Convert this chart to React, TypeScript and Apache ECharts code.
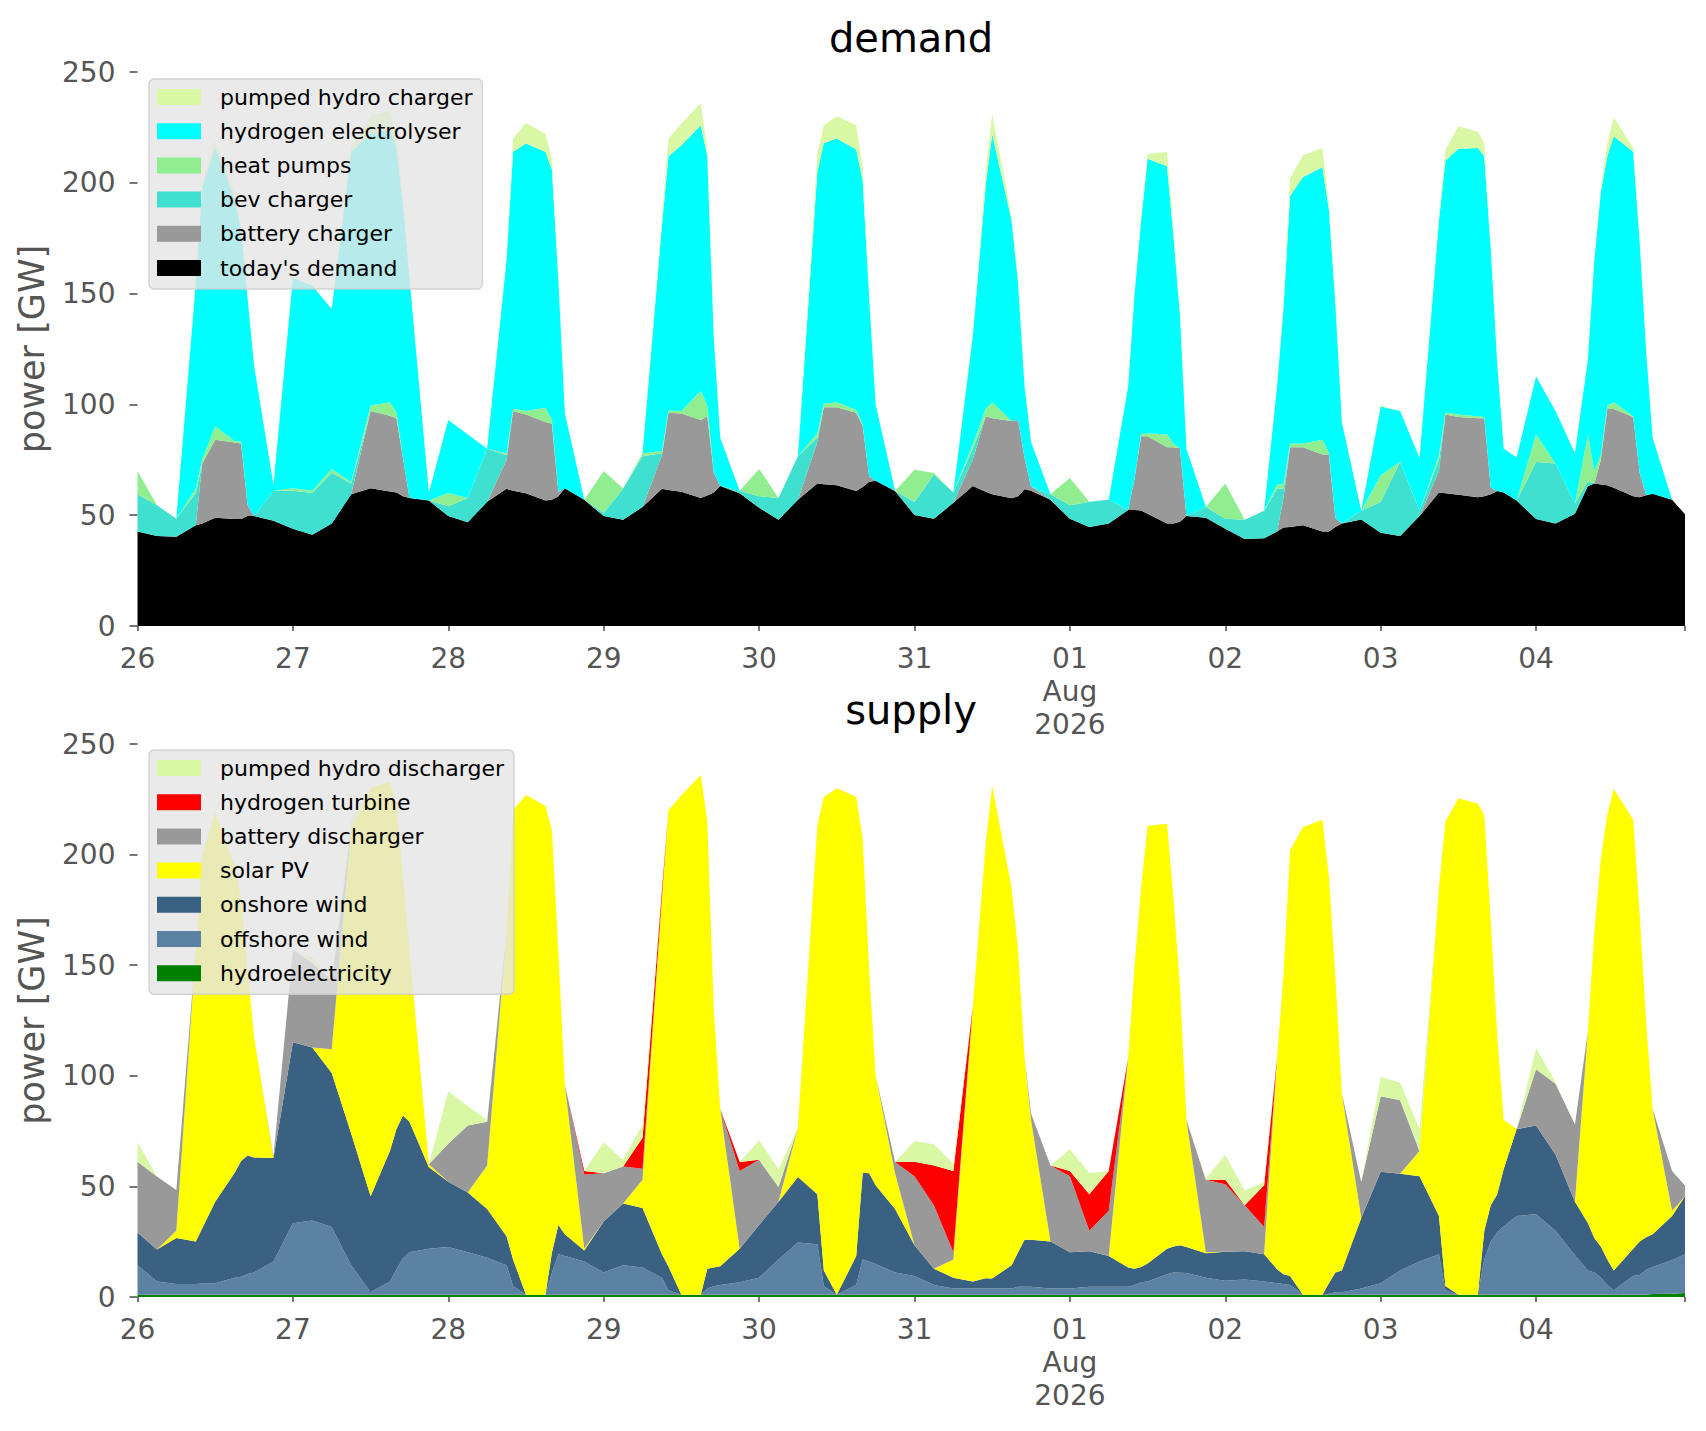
import React, { useEffect, useRef } from 'react';
import * as echarts from 'echarts';

// hours since 26 Jul 2026 00:00 (one row per day)
const HOURS = [
  0, 3, 6, 9, 10, 12, 15, 16, 17, 18, 21,
  24, 27, 30, 33, 36, 39, 40, 41, 42, 45,
  48, 51, 54, 57, 58, 60, 63, 64, 65, 66, 69,
  72, 75, 78, 81, 82, 84, 87, 88, 89, 90, 93,
  96, 99, 102, 105, 106, 108, 111, 112, 113, 114, 117,
  120, 123, 126, 129, 131, 132, 135, 136, 137, 138, 141,
  144, 147, 150, 153, 154, 155, 156, 159, 160, 161, 162, 165,
  168, 171, 174, 176, 177, 178, 180, 183, 184, 185, 186, 189,
  192, 195, 198, 201, 202, 204, 207, 208, 209, 210, 211, 213,
  216, 219, 222, 224, 225, 226, 227, 228, 231, 232, 233, 234, 237,
  239,
];

// ---- demand (GW) ----
const TODAYS_DEMAND = [
  42.6, 40.6, 40.3, 45.5, 46.3, 48.8, 48.3, 48.3, 49.6, 49.6, 47.5,
  43.9, 41.2, 46.3, 59.4, 62.2, 60.7, 60.2, 58.6, 57.8, 56.6,
  49.6, 46.8, 56.1, 61.9, 61, 59.9, 56.6, 57, 58.6, 62.2, 57,
  49.6, 48, 53.7, 61.9, 61.4, 60.6, 57.8, 58.9, 60.2, 63.2, 59.9,
  53.4, 48, 57, 64.3, 64, 63.5, 60.9, 62.7, 65.1, 65.5, 60.9,
  50.1, 48.4, 55.6, 63.2, 60.6, 59.4, 57.6, 58.6, 61.7, 61, 57,
  48.4, 44.7, 46.3, 52.4, 52.4, 52.1, 50.7, 46.3, 46.3, 47.1, 49.6, 48.8,
  43.9, 39.3, 39.6, 42.6, 44.4, 44.7, 45.5, 42.7, 42.6, 44.7, 46.2, 48.1,
  42.1, 40.6, 49.6, 60.2, 59.9, 59.2, 58.1, 58.6, 59.4, 60.9, 60.2, 56.6,
  48.3, 46.3, 50.7, 63.2, 64.3, 63.8, 63.5, 62.4, 58.6, 58.1, 59, 59.7, 57,
  50.4,
];
const BATTERY_CHARGER = [
  0, 0, 0, 0, 27, 35.2, 34.5, 34, 5, 0, 0,
  0, 0, 0, 0, 34.8, 34.2, 33.6, 17.2, 0, 0,
  0, 0, 0, 13.1, 36, 35.5, 35.5, 34.3, 2, 0, 0,
  0, 0, 0, 15.1, 34.8, 35.3, 35.2, 35.7, 9.1, 0, 0,
  0, 0, 0, 18.7, 34.7, 35.2, 35.3, 27.6, 2.5, 0, 0,
  0, 0, 0, 11.8, 34, 34.4, 34.9, 34.4, 14.1, 2, 0,
  0, 0, 0, 0, 14.4, 33.5, 34.9, 34.4, 34.4, 33.1, 0, 0,
  0, 0, 0, 0, 13.6, 36, 35.2, 34.7, 34.8, 4, 0, 0,
  0, 0, 0, 9.8, 35.5, 35.1, 35.7, 35.2, 3.1, 0, 0, 0,
  0, 0, 0, 0, 0, 11.2, 34.4, 35.5, 35.7, 11.1, 0, 0, 0,
  0,
];
const BEV_CHARGER = [
  16.8, 13.9, 8.1, 14.5, 0, 0, 0, 0, 0, 0, 13.5,
  17.1, 18.8, 22.9, 4.9, 0, 0, 0, 0, 0, 0,
  4.4, 11, 23.9, 2, 0, 0, 0, 0, 0, 0, 0,
  1.4, 14, 22.9, 1, 0, 0, 0, 0, 0, 0, 1.1,
  5.2, 9.8, 19.6, 2, 0, 0, 0, 0, 0, 0, 0,
  5.9, 20, 4.6, 5, 0, 0, 0, 0, 0, 0, 2.4,
  6.1, 11.4, 10.7, 0, 0, 0, 0, 0, 0, 0, 0, 4.9,
  4.5, 8.7, 12.4, 19.3, 4, 0, 0, 0, 0, 0, 0, 3.9,
  13.9, 33.5, 2.4, 5, 0, 0, 0, 0, 0, 0, 0, 0,
  25.7, 27, 4.6, 2, 0, 0, 0, 0, 0, 0, 0, 0, 0,
  0,
];
const HEAT_PUMPS = [
  10.6, 0, 0, 2, 2, 6, 0.7, 1, 0, 0, 0,
  1.2, 1, 1.7, 0.7, 2.5, 6.1, 2.4, 0, 0, 0,
  6, 0, 0, 1, 1, 1.6, 6.4, 1.7, 0, 0, 0,
  19, 0, 1.4, 1, 1, 1.1, 13, 4.9, 0, 0, 0,
  12.3, 0, 0, 2, 1.6, 2.3, 1.3, 0.5, 0, 0, 0,
  14.5, 0.6, 0, 2, 3.3, 7.2, 0, 0, 0, 0, 0,
  12.3, 0, 0, 0, 0, 1, 1.4, 5.7, 1.6, 0, 0, 0,
  15.9, 0, 0, 2, 2, 1.6, 1.6, 6.6, 0.8, 0, 0, 0,
  12, 0, 0, 2, 1, 1.1, 0.8, 0.5, 0, 0, 0, 0,
  12.4, 0, 0, 21.2, 5.7, 2, 1.6, 3.1, 0.3, 0, 0, 0, 0,
  0,
];
const H2_ELECTROLYSER = [
  0, 0, 0, 93, 122.7, 126, 109.5, 95.7, 93.4, 67.9, 2.5,
  94.8, 92.5, 72.1, 149, 122.5, 123, 119.8, 114.2, 99.2, 3.4,
  33, 28.6, 0, 87, 116, 120.7, 115.5, 113, 95.4, 33.8, 0,
  0, 0, 0, 102, 114.8, 120, 120, 112.5, 60.7, 21.8, 0,
  0, 0, 0, 118, 117.7, 119, 117.5, 110.2, 80.4, 34.5, 0,
  0, 0, 0, 48.6, 101.1, 121, 90.5, 62, 32.2, 20, 0,
  0, 0, 0, 55.6, 83.2, 96.4, 123.8, 121.1, 93.7, 59.8, 30.4, 0,
  0, 0, 0, 44.1, 80, 111.7, 120.3, 123, 109.8, 96.3, 45.8, 0,
  31, 22.9, 23.8, 106, 113.6, 120, 121.1, 117.7, 107.5, 57.1, 19.8, 19.4,
  26.2, 23.7, 22.7, 33.6, 95, 119, 112.5, 120, 119.4, 103.8, 65, 25.3, 0,
  0,
];
const PHS_CHARGER = [
  0, 0, 0, 2, 2, 3, 2, 1, 0, 0, 0,
  0, 0, 0, 2, 8, 9, 6, 0, 0, 0,
  0, 0, 0, 0, 6, 9.3, 8, 5, 0, 0, 0,
  0, 0, 0, 3, 8, 9.8, 10, 3, 0, 0, 0,
  0, 0, 0, 8, 8, 10, 11, 6, 0, 0, 0,
  0, 0, 0, 0.4, 6, 9, 2, 2, 0, 0, 0,
  0, 0, 0, 0, 0, 2, 2.2, 6.5, 4, 0, 0, 0,
  0, 0, 0, 0, 2, 8, 9.8, 8.7, 2, 0, 0, 0,
  0.5, 0, 0.2, 2, 5, 10.1, 7.3, 6, 0, 0, 0, 0,
  0, 0, 0, 0, 0, 2, 6, 8.6, 1.7, 0, 0, 0, 0,
  0,
];

// ---- supply (GW) ----
const HYDRO = [
  1, 1, 1, 1, 1, 1, 1, 1, 1, 1, 1,
  1, 1, 1, 1, 1, 1, 1, 1, 1, 1,
  1, 1, 1, 1, 1, 1, 1, 1, 1, 1, 1,
  1, 1, 1, 1, 1, 1, 1, 1, 1, 1, 1,
  1, 1, 1, 1, 1, 1, 1, 1, 1, 1, 1,
  1, 1, 1, 1, 1, 1, 1, 1, 1, 1, 1,
  1, 1, 1, 1, 1, 1, 1, 1, 1, 1, 1, 1,
  1, 1, 1, 1, 1, 1, 1, 1, 1, 1, 1, 1,
  1, 1, 1, 1, 1, 1, 1, 1, 1, 1, 1, 1,
  1, 1, 1, 1, 1, 1, 1, 1, 1, 1, 1, 1.3, 1.5,
  1.8,
];
const OFFSHORE = [
  13.4, 6, 4.9, 4.9, 5.1, 5.2, 7.7, 8.2, 9.4, 10.1, 15.1,
  32.3, 33.6, 30.6, 13.4, 1.1, 6, 11.5, 16.5, 19.2, 20.8,
  21.6, 19.2, 16.7, 13.4, 4, 0, 0, 10, 18.3, 17.5, 15.1,
  10.1, 13.4, 12.3, 7.7, 2, 0, 0, 2.8, 3.9, 4.4, 5.7,
  7.7, 15.9, 23.6, 22.8, 4, 0, 4.4, 15.9, 15, 13.9, 10.1,
  8.5, 4.4, 2.8, 2.8, 2.8, 2.8, 2.8, 3.6, 3.6, 3.6, 2.8,
  2.8, 3.6, 3.6, 3.6, 4.4, 5.7, 6, 9.3, 10.1, 10, 9.8, 7.7,
  6.4, 6.9, 6, 5.2, 4.9, 4.4, 0, 0, 0.5, 1.1, 1.1, 2.8,
  5.2, 11, 15.1, 18.3, 2, 0, 0, 16, 24, 28.2, 31, 35.6,
  36.4, 29, 17.9, 11, 10.1, 7.7, 4.4, 2, 8.5, 9, 11.3, 12.3, 15.1,
  17.5,
];
const ONSHORE = [
  14.8, 14.5, 20.8, 19.2, 25, 36.9, 47.5, 52.3, 53.6, 52, 46.7,
  81.9, 78.2, 69.7, 59.5, 43.5, 59.1, 63.5, 64.5, 59, 36.9,
  29.5, 27, 22.1, 13.1, 12, 0, 0, 9, 13.2, 9.9, 4.9,
  23, 27.9, 26.9, 10.6, 10.8, 0, 0, 9, 8.4, 8.5, 15.1,
  23.8, 26.2, 29.7, 22.6, 7, 0, 13.1, 39.3, 39.9, 35.6, 28.7,
  13.9, 7.4, 4.9, 3.2, 4.7, 4.6, 10.6, 15.6, 21.3, 21.3, 21.3,
  16.4, 16.1, 13.9, 8.7, 7.4, 6.9, 8.2, 11.5, 11.7, 12.4, 11.8, 11.1,
  13.1, 12.8, 12.3, 6.3, 4.4, 4.1, 0, 0, 4.7, 9, 9.9, 31.9,
  50.4, 43.7, 38.5, 17.3, 2, 0, 0, 13, 16.5, 17.2, 25.9, 39.3,
  40.1, 34.4, 24.2, 21.5, 15.6, 14.1, 11.5, 9, 12.3, 15.1, 14.7, 14.8, 20,
  26.3,
];
const SOLAR = [
  0, 0, 3.3, 131.9, 169, 175.9, 138.8, 118.5, 84, 54.4, 0,
  0, 0, 10.7, 138.1, 184.4, 166.9, 146, 108, 77.8, 1.3,
  0, 0, 19.7, 137.5, 203, 226, 221, 191, 123.5, 67.6, 0.8,
  0, 0, 12.8, 161.7, 206.2, 225.8, 235, 202.2, 116.7, 71.1, 0,
  0, 0, 22.3, 166.6, 214, 229, 207.5, 150.8, 92.1, 49.5, 16.2,
  0, 0, 8.2, 124, 196.5, 222.6, 170.6, 136.8, 82.1, 54.1, 0,
  0, 0, 0, 94.7, 137.2, 171.4, 197.8, 192.2, 157.2, 116.6, 57.4, 0.4,
  0, 0, 0, 95.5, 135.7, 192.5, 211.4, 214.7, 183.8, 133.9, 80, 0,
  0, 0, 11.4, 148.4, 210, 224.5, 222, 188, 128.5, 71.6, 22.1, 0.1,
  0, 0, 0, 86.5, 138.3, 175.2, 201.1, 217.6, 193.9, 147.9, 97, 56.6, 2.4,
  0,
];
const BATTERY_DISCHARGER = [
  31.9, 33, 18.4, 0, 0, 0, 0, 0, 0, 0, 0.7,
  41.8, 38.2, 31, 0, 0, 0, 0, 0, 0, 0,
  17.2, 30.3, 19.7, 0, 0, 0, 0, 0, 0, 0, 33.6,
  21.9, 16.7, 5, 0, 0, 0, 0, 0, 0, 0, 35.2,
  29.5, 6.6, 0, 0, 0, 0, 0, 0, 0, 0, 5,
  31.2, 28.7, 3.3, 0, 0, 0, 0, 0, 0, 3, 34.3,
  34.4, 9.3, 20.5, 0, 0, 0, 0, 0, 0, 0, 0, 32.8,
  30.5, 20.8, 12.3, 0, 0, 0, 0, 0, 0, 0, 0, 16.3,
  34.1, 33.3, 0, 0, 0, 0, 0, 0, 0, 0, 0, 0,
  25.5, 32, 34.9, 0, 0, 0, 0, 0, 0, 0, 0, 0, 18,
  4.8,
];
const H2_TURBINE = [
  0, 0, 0, 0, 0, 0, 0, 0, 0, 0, 0,
  0, 0, 0, 0, 0, 0, 0, 0, 0, 0,
  0, 0, 0, 0, 0, 0, 0, 0, 0, 0, 1.6,
  0, 0, 14, 3, 0, 0, 0, 0, 0, 0, 4,
  0, 0, 0, 0, 0, 0, 0, 0, 0, 0, 0,
  6.5, 18, 36.8, 0, 0, 0, 0, 0, 0, 0, 0,
  2.4, 16.4, 18, 0, 0, 0, 0, 0, 0, 0, 0, 0,
  2, 0, 18.9, 0, 0, 0, 0, 0, 0, 0, 0, 0,
  0, 0, 0, 0, 0, 0, 0, 0, 0, 0, 0, 0,
  0, 0, 0, 0, 0, 0, 0, 0, 0, 0, 0, 0, 0,
  0,
];
const PHS_DISCHARGER = [
  8.9, 0, 0, 0, 0, 0, 0, 0, 0, 0, 0,
  0, 2.5, 0, 4, 0, 0, 0, 0, 0, 0,
  23.7, 8.9, 0.8, 0, 0, 0, 0, 0, 0, 0, 0,
  14, 3, 6, 0, 0, 0, 0, 0, 0, 0, 0,
  8.9, 8.1, 0, 0, 0, 0, 0, 0, 0, 0, 0,
  9.4, 9.5, 3.2, 0, 0, 0, 0, 0, 0, 0, 0,
  9.8, 9.7, 0, 0, 0, 0, 0, 0, 0, 0, 0, 0.7,
  11.3, 6.5, 1.5, 0, 0, 0, 0, 0, 0, 0, 0, 0,
  8.8, 8, 10, 0, 0, 0, 0, 0, 0, 0, 0, 0,
  9.6, 0.6, 0, 0, 0, 0, 0, 0, 0, 0, 0, 0, 0,
  0,
];

const Y_TICKS = [0, 50, 100, 150, 200, 250];
const DEMAND_LEGEND = ['pumped hydro charger', 'hydrogen electrolyser', 'heat pumps', 'bev charger', 'battery charger', "today's demand"];
const SUPPLY_LEGEND = ['pumped hydro discharger', 'hydrogen turbine', 'battery discharger', 'solar PV', 'onshore wind', 'offshore wind', 'hydroelectricity'];

const FONT = 'DejaVu Sans';
const TICK_COLOR = '#555555';
const START = new Date(2026, 6, 26, 0, 0, 0).getTime();
const HOUR_MS = 3600000;
const LAST_HOUR = HOURS[HOURS.length - 1];

const PLOT_LEFT = 137.5;
const PLOT_WIDTH = 1547.5;

function dayLabel(v: number): string {
  if (Math.abs(v % 24) > 1e-6) return '';
  const d = new Date(2026, 6, 26 + v / 24);
  const s = String(d.getDate()).padStart(2, '0');
  if (d.getDate() === 1) return s + '\nAug\n2026';
  return s;
}

function makeSeries(name: string, values: number[], color: string, stack: string, axisIdx: number) {
  return {
    type: 'line',
    name,
    stack,
    xAxisIndex: axisIdx * 2,
    yAxisIndex: axisIdx,
    data: HOURS.map((h, i) => [START + h * HOUR_MS, values[i] ?? 0]),
    showSymbol: false,
    symbol: 'none',
    color,
    itemStyle: { color },
    lineStyle: { width: 0, color },
    areaStyle: { color, opacity: 1 },
    silent: true,
    emphasis: { disabled: true },
  };
}

function App() {
  const ref = useRef<HTMLDivElement | null>(null);

  useEffect(() => {
    document.body.style.margin = '0';
    if (!ref.current) return;
    const chart = echarts.init(ref.current, null, { renderer: 'svg' });

    const grids = [
      { left: PLOT_LEFT, top: 72, width: PLOT_WIDTH, height: 554 },
      { left: PLOT_LEFT, top: 744, width: PLOT_WIDTH, height: 553 },
    ];

    const xAxes: any[] = [];
    const yAxes: any[] = [];
    [0, 1].forEach((g) => {
      xAxes.push({
        type: 'time',
        gridIndex: g,
        min: START,
        max: START + LAST_HOUR * HOUR_MS,
        show: false,
      });
      xAxes.push({
        type: 'value',
        gridIndex: g,
        position: 'bottom',
        min: 0,
        max: LAST_HOUR,
        interval: 24,
        axisLine: { show: false },
        splitLine: { show: false },
        axisTick: { show: true, length: 5, lineStyle: { color: TICK_COLOR, width: 1.6 } },
        axisLabel: {
          show: true,
          formatter: dayLabel,
          color: TICK_COLOR,
          fontSize: 28,
          lineHeight: 33,
          margin: 16,
          fontFamily: FONT,
          showMinLabel: true,
          showMaxLabel: true,
        },
      });
      yAxes.push({
        type: 'value',
        gridIndex: g,
        min: Y_TICKS[0],
        max: Y_TICKS[Y_TICKS.length - 1],
        interval: 50,
        name: 'power [GW]',
        nameLocation: 'middle',
        nameGap: 88,
        nameRotate: 90,
        nameTextStyle: { fontSize: 35, color: TICK_COLOR, fontFamily: FONT },
        axisLine: { show: false },
        splitLine: { show: false },
        axisTick: { show: true, length: 8, lineStyle: { color: TICK_COLOR, width: 1.6 } },
        axisLabel: { color: TICK_COLOR, fontSize: 28, margin: 22, fontFamily: FONT },
      });
    });

    const PHS_COLOR = '#daf7a6';
    const series = [
      makeSeries("today's demand", TODAYS_DEMAND, '#000000', 'demand', 0),
      makeSeries('battery charger', BATTERY_CHARGER, '#999999', 'demand', 0),
      makeSeries('bev charger', BEV_CHARGER, '#40e0d0', 'demand', 0),
      makeSeries('heat pumps', HEAT_PUMPS, '#90ee90', 'demand', 0),
      makeSeries('hydrogen electrolyser', H2_ELECTROLYSER, '#00ffff', 'demand', 0),
      makeSeries('pumped hydro charger', PHS_CHARGER, PHS_COLOR, 'demand', 0),
      makeSeries('hydroelectricity', HYDRO, '#008000', 'supply', 1),
      makeSeries('offshore wind', OFFSHORE, '#5b82a3', 'supply', 1),
      makeSeries('onshore wind', ONSHORE, '#3b6182', 'supply', 1),
      makeSeries('solar PV', SOLAR, '#ffff00', 'supply', 1),
      makeSeries('battery discharger', BATTERY_DISCHARGER, '#999999', 'supply', 1),
      makeSeries('hydrogen turbine', H2_TURBINE, '#ff0000', 'supply', 1),
      makeSeries('pumped hydro discharger', PHS_DISCHARGER, PHS_COLOR, 'supply', 1),
    ];

    const legendCommon = {
      orient: 'vertical',
      left: 149,
      icon: 'rect',
      itemWidth: 44,
      itemHeight: 16,
      itemGap: 0.2,
      selectedMode: false,
      padding: [1, 10, 4, 8],
      backgroundColor: 'rgba(229,229,229,0.8)',
      borderColor: 'rgba(204,204,204,0.8)',
      borderWidth: 1.5,
      borderRadius: 5,
      textStyle: { fontSize: 22, lineHeight: 34, color: '#000000', fontFamily: FONT, padding: [0, 0, 0, 14] },
      z: 10,
    };

    chart.setOption({
      animation: false,
      backgroundColor: '#ffffff',
      textStyle: { fontFamily: FONT },
      title: [
        { text: 'demand', left: 911, top: 18, textAlign: 'center', padding: 0,
          textStyle: { fontSize: 40, lineHeight: 40, fontWeight: 'normal', color: '#000000', fontFamily: FONT } },
        { text: 'supply', left: 911, top: 689.5, textAlign: 'center', padding: 0,
          textStyle: { fontSize: 40, lineHeight: 40, fontWeight: 'normal', color: '#000000', fontFamily: FONT } },
      ],
      legend: [
        { ...legendCommon, top: 79, data: DEMAND_LEGEND },
        { ...legendCommon, top: 750, data: SUPPLY_LEGEND },
      ],
      grid: grids,
      xAxis: xAxes,
      yAxis: yAxes,
      series,
    });

    return () => {
      chart.dispose();
    };
  }, []);

  return <div ref={ref} style={{ width: 1706, height: 1431 }} />;
}

export default App;
